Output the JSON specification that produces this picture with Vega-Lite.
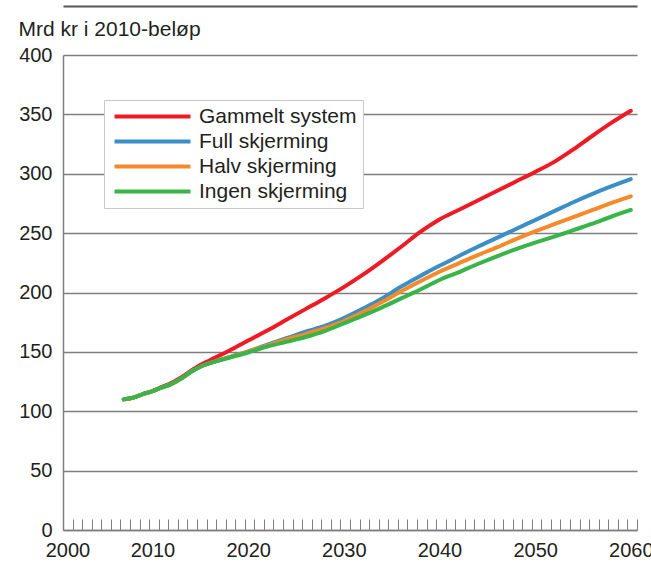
{
  "$schema": "https://vega.github.io/schema/vega-lite/v6.json",
  "width": 574,
  "height": 475,
  "autosize": "none",
  "padding": {"left": 63, "top": 55, "right": 14, "bottom": 35},
  "background": "white",
  "config": {
    "view": {"stroke": null},
    "font": "Liberation Sans",
    "axis": {"labelFont": "Liberation Sans", "titleFont": "Liberation Sans", "labelColor": "#231f20", "titleColor": "#231f20"}
  },
  "data": {
    "values": [
      {"year": 2007, "series": "Gammelt system", "value": 110},
      {"year": 2008, "series": "Gammelt system", "value": 111.5},
      {"year": 2009, "series": "Gammelt system", "value": 114.5},
      {"year": 2010, "series": "Gammelt system", "value": 117},
      {"year": 2011, "series": "Gammelt system", "value": 120.5},
      {"year": 2012, "series": "Gammelt system", "value": 124},
      {"year": 2013, "series": "Gammelt system", "value": 128.5},
      {"year": 2014, "series": "Gammelt system", "value": 134},
      {"year": 2015, "series": "Gammelt system", "value": 139},
      {"year": 2016, "series": "Gammelt system", "value": 143},
      {"year": 2018, "series": "Gammelt system", "value": 151},
      {"year": 2020, "series": "Gammelt system", "value": 159.5},
      {"year": 2022, "series": "Gammelt system", "value": 168},
      {"year": 2024, "series": "Gammelt system", "value": 177},
      {"year": 2026, "series": "Gammelt system", "value": 186},
      {"year": 2028, "series": "Gammelt system", "value": 195},
      {"year": 2030, "series": "Gammelt system", "value": 204.5},
      {"year": 2032, "series": "Gammelt system", "value": 215},
      {"year": 2034, "series": "Gammelt system", "value": 226.5},
      {"year": 2036, "series": "Gammelt system", "value": 238.5},
      {"year": 2038, "series": "Gammelt system", "value": 251},
      {"year": 2040, "series": "Gammelt system", "value": 261.5},
      {"year": 2042, "series": "Gammelt system", "value": 269.5},
      {"year": 2044, "series": "Gammelt system", "value": 277.5},
      {"year": 2046, "series": "Gammelt system", "value": 285.5},
      {"year": 2048, "series": "Gammelt system", "value": 293.5},
      {"year": 2050, "series": "Gammelt system", "value": 301.5},
      {"year": 2052, "series": "Gammelt system", "value": 310},
      {"year": 2054, "series": "Gammelt system", "value": 320.5},
      {"year": 2056, "series": "Gammelt system", "value": 332},
      {"year": 2058, "series": "Gammelt system", "value": 343},
      {"year": 2060, "series": "Gammelt system", "value": 353},

      {"year": 2007, "series": "Full skjerming", "value": 110},
      {"year": 2008, "series": "Full skjerming", "value": 111.5},
      {"year": 2009, "series": "Full skjerming", "value": 114.5},
      {"year": 2010, "series": "Full skjerming", "value": 117},
      {"year": 2011, "series": "Full skjerming", "value": 120},
      {"year": 2012, "series": "Full skjerming", "value": 123},
      {"year": 2013, "series": "Full skjerming", "value": 127.5},
      {"year": 2014, "series": "Full skjerming", "value": 133},
      {"year": 2015, "series": "Full skjerming", "value": 137.5},
      {"year": 2016, "series": "Full skjerming", "value": 140.5},
      {"year": 2018, "series": "Full skjerming", "value": 145.5},
      {"year": 2020, "series": "Full skjerming", "value": 150.5},
      {"year": 2022, "series": "Full skjerming", "value": 156},
      {"year": 2024, "series": "Full skjerming", "value": 161.5},
      {"year": 2026, "series": "Full skjerming", "value": 167},
      {"year": 2028, "series": "Full skjerming", "value": 171.8},
      {"year": 2030, "series": "Full skjerming", "value": 178.5},
      {"year": 2032, "series": "Full skjerming", "value": 186.5},
      {"year": 2034, "series": "Full skjerming", "value": 195},
      {"year": 2036, "series": "Full skjerming", "value": 205},
      {"year": 2038, "series": "Full skjerming", "value": 214},
      {"year": 2040, "series": "Full skjerming", "value": 222.5},
      {"year": 2042, "series": "Full skjerming", "value": 230.5},
      {"year": 2044, "series": "Full skjerming", "value": 238.5},
      {"year": 2046, "series": "Full skjerming", "value": 246},
      {"year": 2048, "series": "Full skjerming", "value": 253.5},
      {"year": 2050, "series": "Full skjerming", "value": 261},
      {"year": 2052, "series": "Full skjerming", "value": 268.5},
      {"year": 2054, "series": "Full skjerming", "value": 276},
      {"year": 2056, "series": "Full skjerming", "value": 283},
      {"year": 2058, "series": "Full skjerming", "value": 289.5},
      {"year": 2060, "series": "Full skjerming", "value": 295.5},

      {"year": 2007, "series": "Halv skjerming", "value": 110},
      {"year": 2008, "series": "Halv skjerming", "value": 111.5},
      {"year": 2009, "series": "Halv skjerming", "value": 114.5},
      {"year": 2010, "series": "Halv skjerming", "value": 117},
      {"year": 2011, "series": "Halv skjerming", "value": 120},
      {"year": 2012, "series": "Halv skjerming", "value": 123},
      {"year": 2013, "series": "Halv skjerming", "value": 127.5},
      {"year": 2014, "series": "Halv skjerming", "value": 133},
      {"year": 2015, "series": "Halv skjerming", "value": 137.5},
      {"year": 2016, "series": "Halv skjerming", "value": 140.5},
      {"year": 2018, "series": "Halv skjerming", "value": 145.3},
      {"year": 2020, "series": "Halv skjerming", "value": 150.2},
      {"year": 2022, "series": "Halv skjerming", "value": 155.5},
      {"year": 2024, "series": "Halv skjerming", "value": 160.5},
      {"year": 2026, "series": "Halv skjerming", "value": 165},
      {"year": 2028, "series": "Halv skjerming", "value": 170},
      {"year": 2030, "series": "Halv skjerming", "value": 176},
      {"year": 2032, "series": "Halv skjerming", "value": 183.5},
      {"year": 2034, "series": "Halv skjerming", "value": 192},
      {"year": 2036, "series": "Halv skjerming", "value": 201},
      {"year": 2038, "series": "Halv skjerming", "value": 209.5},
      {"year": 2040, "series": "Halv skjerming", "value": 217.5},
      {"year": 2042, "series": "Halv skjerming", "value": 224.5},
      {"year": 2044, "series": "Halv skjerming", "value": 231.5},
      {"year": 2046, "series": "Halv skjerming", "value": 238},
      {"year": 2048, "series": "Halv skjerming", "value": 245},
      {"year": 2050, "series": "Halv skjerming", "value": 251.5},
      {"year": 2052, "series": "Halv skjerming", "value": 257.5},
      {"year": 2054, "series": "Halv skjerming", "value": 263.5},
      {"year": 2056, "series": "Halv skjerming", "value": 269.5},
      {"year": 2058, "series": "Halv skjerming", "value": 275.5},
      {"year": 2060, "series": "Halv skjerming", "value": 281},

      {"year": 2007, "series": "Ingen skjerming", "value": 110},
      {"year": 2008, "series": "Ingen skjerming", "value": 111.5},
      {"year": 2009, "series": "Ingen skjerming", "value": 114.5},
      {"year": 2010, "series": "Ingen skjerming", "value": 117},
      {"year": 2011, "series": "Ingen skjerming", "value": 120},
      {"year": 2012, "series": "Ingen skjerming", "value": 123},
      {"year": 2013, "series": "Ingen skjerming", "value": 127.5},
      {"year": 2014, "series": "Ingen skjerming", "value": 133},
      {"year": 2015, "series": "Ingen skjerming", "value": 137.5},
      {"year": 2016, "series": "Ingen skjerming", "value": 140.5},
      {"year": 2018, "series": "Ingen skjerming", "value": 145},
      {"year": 2020, "series": "Ingen skjerming", "value": 149.5},
      {"year": 2022, "series": "Ingen skjerming", "value": 154.5},
      {"year": 2024, "series": "Ingen skjerming", "value": 158.5},
      {"year": 2026, "series": "Ingen skjerming", "value": 162.5},
      {"year": 2028, "series": "Ingen skjerming", "value": 167.5},
      {"year": 2030, "series": "Ingen skjerming", "value": 174},
      {"year": 2032, "series": "Ingen skjerming", "value": 180.5},
      {"year": 2034, "series": "Ingen skjerming", "value": 187.5},
      {"year": 2036, "series": "Ingen skjerming", "value": 195},
      {"year": 2038, "series": "Ingen skjerming", "value": 202.5},
      {"year": 2040, "series": "Ingen skjerming", "value": 210.5},
      {"year": 2042, "series": "Ingen skjerming", "value": 217},
      {"year": 2044, "series": "Ingen skjerming", "value": 224},
      {"year": 2046, "series": "Ingen skjerming", "value": 230.5},
      {"year": 2048, "series": "Ingen skjerming", "value": 236.5},
      {"year": 2050, "series": "Ingen skjerming", "value": 242},
      {"year": 2052, "series": "Ingen skjerming", "value": 247},
      {"year": 2054, "series": "Ingen skjerming", "value": 252.5},
      {"year": 2056, "series": "Ingen skjerming", "value": 258},
      {"year": 2058, "series": "Ingen skjerming", "value": 264},
      {"year": 2060, "series": "Ingen skjerming", "value": 269.5}
    ]
  },
  "resolve": {"axis": {"x": "independent"}},
  "layer": [
    {
      "mark": {"type": "line", "strokeWidth": 4, "interpolate": "monotone", "strokeCap": "round"},
      "encoding": {
        "x": {
          "field": "year", "type": "quantitative",
          "scale": {"domain": [2000.65, 2060.65], "nice": false, "zero": false},
          "axis": {
            "title": null,
            "values": [2000.65,2001.65,2002.65,2003.65,2004.65,2005.65,2006.65,2007.65,2008.65,2009.65,2010.65,2011.65,2012.65,2013.65,2014.65,2015.65,2016.65,2017.65,2018.65,2019.65,2020.65,2021.65,2022.65,2023.65,2024.65,2025.65,2026.65,2027.65,2028.65,2029.65,2030.65,2031.65,2032.65,2033.65,2034.65,2035.65,2036.65,2037.65,2038.65,2039.65,2040.65,2041.65,2042.65,2043.65,2044.65,2045.65,2046.65,2047.65,2048.65,2049.65,2050.65,2051.65,2052.65,2053.65,2054.65,2055.65,2056.65,2057.65,2058.65,2059.65,2060.65],
            "labelExpr": "abs((datum.value - 0.65) - round((datum.value - 0.65) / 10) * 10) < 0.01 ? format(round(datum.value - 0.65), 'd') : ''",
            "labelOffset": {"condition": {"test": "datum.value < 2001", "value": 4.5}, "value": -6.2},
            "labelFlush": false,
            "labelOverlap": false,
            "labelBound": false,
            "labelFontSize": 20,
            "labelPadding": 21,
            "grid": false,
            "domainColor": "#7f7f7f",
            "domainWidth": 1.5,
            "ticks": true,
            "tickSize": -11,
            "tickColor": "#7f7f7f",
            "tickWidth": 1
          }
        },
        "y": {
          "field": "value", "type": "quantitative",
          "scale": {"domain": [0, 400], "nice": false},
          "axis": {
            "title": "Mrd kr i 2010-beløp",
            "titleAngle": 0,
            "titleAlign": "left",
            "titleBaseline": "alphabetic",
            "titleX": -45,
            "titleY": -20,
            "titleFontSize": 21,
            "titleFontWeight": "normal",
            "values": [0, 50, 100, 150, 200, 250, 300, 350, 400],
            "labelFontSize": 20,
            "labelPadding": 11,
            "ticks": false,
            "grid": true,
            "gridColor": "#7f7f7f",
            "gridWidth": 1.5,
            "domainColor": "#7f7f7f",
            "domainWidth": 1.5
          }
        },
        "color": {
          "field": "series", "type": "nominal",
          "scale": {
            "domain": ["Gammelt system", "Full skjerming", "Halv skjerming", "Ingen skjerming"],
            "range": ["#ed1c24", "#3b8fc6", "#f58a2a", "#38b449"]
          },
          "legend": {
            "orient": "none",
            "legendX": 41,
            "legendY": 45,
            "title": null,
            "symbolType": "M-0.75,0L8.75,0",
            "symbolSize": 256,
            "symbolStrokeWidth": 4,
            "labelFontSize": 21,
            "labelFont": "Liberation Sans",
            "labelColor": "#231f20",
            "fillColor": "white",
            "strokeColor": "#c8c8c8",
            "padding": 6,
            "rowPadding": 3,
            "labelOffset": 68
          }
        }
      }
    },
    {
      "mark": {"type": "line", "opacity": 0},
      "encoding": {
        "x": {
          "field": "year", "type": "quantitative",
          "axis": {
            "orient": "top",
            "offset": 49,
            "title": null,
            "labels": false,
            "ticks": false,
            "grid": false,
            "domainColor": "#555555",
            "domainWidth": 2
          }
        },
        "y": {"field": "value", "type": "quantitative"},
        "detail": {"field": "series", "type": "nominal"}
      }
    }
  ]
}
